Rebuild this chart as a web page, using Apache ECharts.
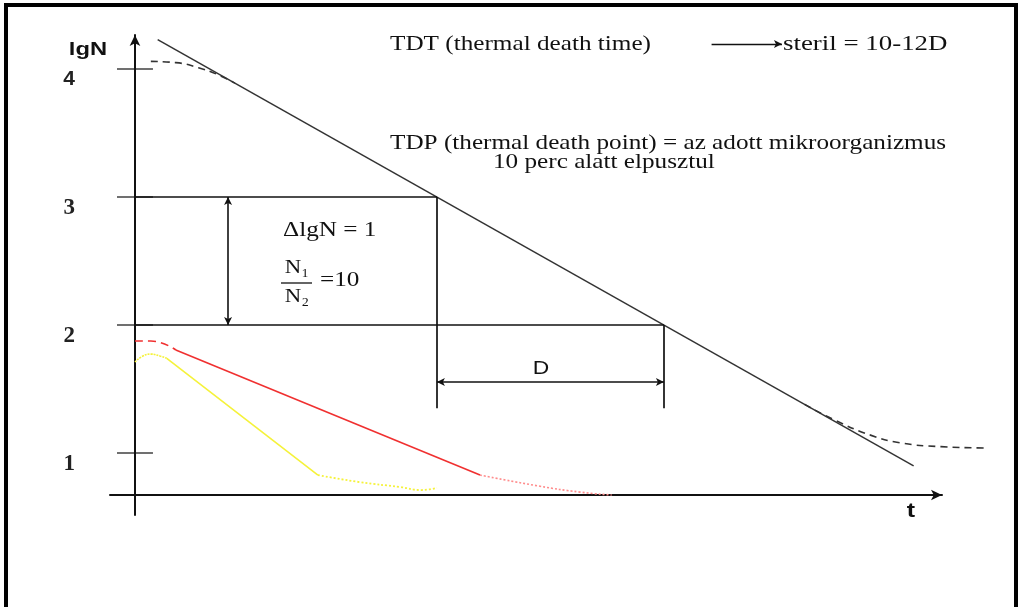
<!DOCTYPE html>
<html>
<head>
    <meta charset="utf-8">
    <title>TDT / TDP</title>
    <script src="https://cdn.jsdelivr.net/npm/echarts@6/dist/echarts.min.js"></script>
    <style type="text/css">
        html, body { margin: 0; padding: 0; background: #fff; }
        #main { width: 1021px; height: 607px; }
    </style>
</head>
<body>
<div id="main"></div>
<script>
    // t in minutes, lgN on the vertical axis
    var tickValues = [1, 2, 3, 4];
    // straight survivor line (slope -0.1 / min, so D = 10 min)
    var mainLine = [[1, 4.23], [34.3, 0.9]];
    // dashed lag at the start and dashed tail at the end
    var lagHead = [[0.7, 4.06], [1.8, 4.05], [2.8, 4.01], [3.6, 3.96], [4.4, 3.89]];
    var tailDashed = [[29.5, 1.38], [30.8, 1.26], [32.4, 1.14], [33.7, 1.08], [35.5, 1.05], [37.4, 1.04]];
    // red curve
    var redHead = [[0, 1.875], [0.7, 1.875], [1.8, 1.805]];
    var redSolid = [[1.8, 1.805], [15.2, 0.828]];
    var redTail = [[15.2, 0.828], [17.8, 0.742], [19.6, 0.695], [21.0, 0.672]];
    // yellow curve
    var yellowHead = [[0, 1.711], [0.35, 1.758], [0.7, 1.773], [1.1, 1.758], [1.4, 1.74]];
    var yellowSolid = [[1.4, 1.74], [8.06, 0.828]];
    var yellowTail = [[8.06, 0.828], [9.9, 0.773], [11.7, 0.734], [12.6, 0.711], [13.3, 0.727]];
    // D construction
    var t3 = 13.3, t2 = 23.3;      // main line at lgN 3 and lgN 2
    var boxBottom = 1.35;          // where the two verticals stop
    var dArrowY = 1.555;           // the D arrow
    var dlgArrowX = 4.1;           // the ΔlgN arrow
    var tdtArrow = [[25.4, 4.195], [28.5, 4.195]];

    var myChart = echarts.init(document.getElementById('main'));

    function curve(name, data, color, width, type, smooth, axis) {
        return {
            name: name, type: 'line', data: data, showSymbol: false, smooth: smooth,
            clip: false, silent: true,
            xAxisIndex: axis || 0, yAxisIndex: axis || 0,
            lineStyle: { color: color, width: width, type: type }
        };
    }

    var serif = '"Liberation Serif", "DejaVu Serif", serif';
    var sans = '"Liberation Sans", Arial, sans-serif';

    function txt(x, y, text, size, family, weight, align, sx) {
        return {
            type: 'text', x: x, y: y, scaleX: sx || 1.2,
            style: {
                text: text, fontSize: size, fontFamily: family, fontWeight: weight || 'normal',
                fill: '#111', textAlign: align || 'left', textVerticalAlign: 'middle'
            }
        };
    }

    // second grid has the same scale but runs further right, for the tail past the arrow
    var xMin = -1.1, xMax = 35.55, xMaxWide = 38.107;
    var yMin = 0.516, yMax = 4.266;

    var option = {
        animation: false,
        grid: [
            { left: 110, right: 79, top: 35, bottom: 92, outerBoundsMode: 'none' },
            { left: 110, right: 21, top: 35, bottom: 92, outerBoundsMode: 'none' }
        ],
        xAxis: [{
            type: 'value', min: xMin, max: xMax, offset: -20,
            axisLine: { onZero: false, symbol: ['none', 'arrow'], symbolSize: [8, 11], lineStyle: { color: '#111', width: 2 } },
            axisTick: { show: false }, axisLabel: { show: false }, splitLine: { show: false }
        }, {
            gridIndex: 1, type: 'value', min: xMin, max: xMaxWide, show: false
        }],
        yAxis: [{
            type: 'value', min: yMin, max: yMax,
            axisLine: { onZero: true, symbol: ['none', 'arrow'], symbolSize: [8, 11], lineStyle: { color: '#111', width: 2 } },
            axisTick: { show: false },
            splitLine: { show: false },
            axisLabel: {
                customValues: tickValues, margin: 35, verticalAlign: 'top',
                fontFamily: serif, fontWeight: 'bold', fontSize: 23, color: '#222',
                formatter: function (v) { return v === 4 ? '{s|4}' : String(v); },
                rich: { s: { fontFamily: sans, fontWeight: 'bold', fontSize: 21, color: '#222' } }
            }
        }, {
            gridIndex: 1, type: 'value', min: yMin, max: yMax, show: false
        }],
        series: [
            {
                name: 'ticks', type: 'scatter', silent: true,
                data: tickValues.map(function (v) { return [0, v]; }),
                symbol: 'rect', symbolSize: [36, 1.6], itemStyle: { color: '#111' }
            },
            curve('main', mainLine, '#333', 1.5, 'solid', false),
            curve('lag', lagHead, '#333', 1.6, [7, 5], true),
            curve('tail', tailDashed, '#333', 1.6, [7, 5], true, 1),
            curve('redHead', redHead, '#f03030', 1.6, [8, 5], true),
            curve('red', redSolid, '#f03030', 1.6, 'solid', false),
            curve('redTail', redTail, '#ff8c8c', 1.6, [2, 2], true),
            curve('yellowHead', yellowHead, '#f5f23a', 1.6, [2, 1], true),
            curve('yellow', yellowSolid, '#f5f23a', 1.6, 'solid', false),
            curve('yellowTail', yellowTail, '#f5f23a', 1.8, [2, 2], true),
            {
                name: 'guides', type: 'line', data: [], silent: true,
                markLine: {
                    silent: true, symbol: 'none', label: { show: false },
                    lineStyle: { color: '#111', width: 1.7, type: 'solid' },
                    data: [
                        [{ coord: [0, 3] }, { coord: [t3, 3] }],
                        [{ coord: [0, 2] }, { coord: [t2, 2] }],
                        [{ coord: [t3, 3] }, { coord: [t3, boxBottom] }],
                        [{ coord: [t2, 2] }, { coord: [t2, boxBottom] }]
                    ]
                }
            },
            {
                name: 'arrows', type: 'line', data: [], silent: true,
                markLine: {
                    silent: true, symbol: ['arrow', 'arrow'], symbolSize: [6, 8], label: { show: false },
                    lineStyle: { color: '#111', width: 1.6, type: 'solid' },
                    data: [
                        [{ coord: [dlgArrowX, 3] }, { coord: [dlgArrowX, 2] }],
                        [{ coord: [t3, dArrowY] }, { coord: [t2, dArrowY] }]
                    ]
                }
            },
            {
                name: 'tdtArrow', type: 'line', data: [], silent: true,
                markLine: {
                    silent: true, symbol: ['none', 'arrow'], symbolSize: [6, 8], label: { show: false },
                    lineStyle: { color: '#111', width: 1.3, type: 'solid' },
                    data: [[{ coord: tdtArrow[0] }, { coord: tdtArrow[1] }]]
                }
            }
        ],
        graphic: [
            { type: 'rect', shape: { x: 6, y: 5, width: 1010, height: 700 }, style: { fill: 'none', stroke: '#000', lineWidth: 4 }, silent: true },
            txt(88, 50, 'lgN', 19, sans, 'bold', 'center', 1.25),
            txt(911, 511, 't', 20, sans, 'bold', 'center', 1.25),
            txt(390, 44, 'TDT (thermal death time)', 21, serif),
            txt(783, 44, 'steril = 10-12D', 21, serif, 'normal', 'left', 1.28),
            txt(390, 143, 'TDP (thermal death point) = az adott mikroorganizmus', 21, serif),
            txt(493, 162, '10 perc alatt elpusztul', 21, serif),
            txt(283, 230, 'ΔlgN = 1', 21, serif),
            txt(297, 268, 'N₁', 19, serif, 'normal', 'center'),
            txt(297, 297, 'N₂', 19, serif, 'normal', 'center'),
            { type: 'line', shape: { x1: 281, y1: 283, x2: 312, y2: 283 }, style: { stroke: '#111', lineWidth: 1.3 } },
            txt(320, 280, '=10', 21, serif),
            txt(541, 369, 'D', 19, sans, 'normal', 'center')
        ]
    };

    myChart.setOption(option);
</script>
</body>
</html>
